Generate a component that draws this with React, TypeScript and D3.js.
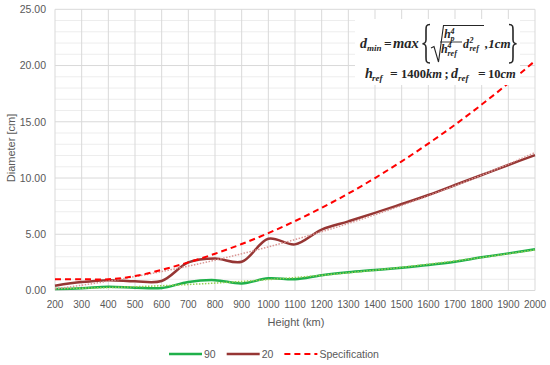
import React, { useRef, useEffect } from 'react';
import * as d3 from 'd3';

// heights in km
const heights = [200, 300, 400, 500, 600, 700, 800, 900, 1000, 1100, 1200, 1300, 1400, 1500, 1600, 1700, 1800, 1900, 2000];

// diameter [cm] per series
const series90 = [0.13, 0.2, 0.34, 0.25, 0.22, 0.76, 0.92, 0.62, 1.08, 1.0, 1.36, 1.62, 1.82, 2.03, 2.27, 2.56, 2.95, 3.3, 3.66];
const series20 = [0.43, 0.75, 0.92, 0.82, 0.85, 2.5, 2.85, 2.55, 4.6, 4.1, 5.42, 6.15, 6.9, 7.69, 8.49, 9.38, 10.27, 11.16, 12.04];
const specification = [1.0, 1.0, 1.0, 1.28, 1.84, 2.5, 3.27, 4.13, 5.1, 6.17, 7.35, 8.62, 10.0, 11.48, 13.06, 14.74, 16.53, 18.42, 20.41];

const xTicks = heights;
const yTicks = [0, 5, 10, 15, 20, 25];
const yMinorTicks = d3.range(0, 26, 1);

const legendItems = [
   { label: '90', color: '#1FB04A', dash: null },
   { label: '20', color: '#963634', dash: null },
   { label: 'Specification', color: '#FF0000', dash: '6,4' },
];

// least squares polynomial fit (Excel-style trendline)
const polyFit = (xs: number[], ys: number[], order: number) => {
   const n = order + 1;
   const A: number[][] = [];
   for (let i = 0; i < n; i++) {
      A.push(new Array(n + 1).fill(0));
   }
   const sx = xs.map((x) => x / 1000);
   for (let i = 0; i < n; i++) {
      for (let j = 0; j < n; j++) {
         A[i][j] = d3.sum(sx, (x) => Math.pow(x, i + j));
      }
      A[i][n] = d3.sum(sx, (x, k) => Math.pow(x, i) * ys[k]);
   }
   for (let c = 0; c < n; c++) {
      let p = c;
      for (let r = c + 1; r < n; r++) if (Math.abs(A[r][c]) > Math.abs(A[p][c])) p = r;
      [A[c], A[p]] = [A[p], A[c]];
      for (let r = 0; r < n; r++) {
         if (r === c) continue;
         const f = A[r][c] / A[c][c];
         for (let k = c; k <= n; k++) A[r][k] -= f * A[c][k];
      }
   }
   const coef = A.map((row, i) => row[n] / row[i]);
   return (x: number) => d3.sum(coef, (c, i) => c * Math.pow(x / 1000, i));
};

const App: React.FC = () => {
   const svgRef = useRef<SVGSVGElement | null>(null);
   const width = 550;
   const height = 365;

   useEffect(() => {
      if (!svgRef.current) return;
      const svg = d3.select(svgRef.current);
      svg.selectAll('*').remove();

      const x = d3.scaleLinear().domain([200, 2000]).range([55, 535]);
      const y = d3.scaleLinear().domain([0, 25]).range([290.5, 9.3]);
      const font = '"Liberation Sans", Arial, sans-serif';

      svg.append('rect').attr('width', width).attr('height', height).attr('fill', '#fff');

      // minor gridlines
      svg.append('g')
         .selectAll('line')
         .data(yMinorTicks.filter((d) => d % 5 !== 0))
         .join('line')
         .attr('x1', x(200))
         .attr('x2', x(2000))
         .attr('y1', (d) => y(d))
         .attr('y2', (d) => y(d))
         .attr('stroke', '#EDEDED')
         .attr('stroke-width', 1);

      // major gridlines
      svg.append('g')
         .selectAll('line')
         .data(yTicks)
         .join('line')
         .attr('x1', x(200))
         .attr('x2', x(2000))
         .attr('y1', (d) => y(d))
         .attr('y2', (d) => y(d))
         .attr('stroke', '#D9D9D9')
         .attr('stroke-width', 1);

      svg.append('g')
         .selectAll('line')
         .data(xTicks)
         .join('line')
         .attr('x1', (d) => x(d))
         .attr('x2', (d) => x(d))
         .attr('y1', y(25))
         .attr('y2', y(0))
         .attr('stroke', '#D9D9D9')
         .attr('stroke-width', 1);

      // tick labels
      svg.append('g')
         .selectAll('text')
         .data(yTicks)
         .join('text')
         .attr('x', 46)
         .attr('y', (d) => y(d) + 3.8)
         .attr('text-anchor', 'end')
         .attr('font-family', font)
         .attr('font-size', 10.5)
         .attr('fill', '#595959')
         .text((d) => d.toFixed(2));

      svg.append('g')
         .selectAll('text')
         .data(xTicks)
         .join('text')
         .attr('x', (d) => x(d))
         .attr('y', 307.5)
         .attr('text-anchor', 'middle')
         .attr('font-family', font)
         .attr('font-size', 10)
         .attr('fill', '#595959')
         .text((d) => String(d));

      svg.append('text')
         .attr('x', 296)
         .attr('y', 326)
         .attr('text-anchor', 'middle')
         .attr('font-family', font)
         .attr('font-size', 11)
         .attr('fill', '#595959')
         .text('Height (km)');

      svg.append('text')
         .attr('transform', 'translate(15,148) rotate(-90)')
         .attr('text-anchor', 'middle')
         .attr('font-family', font)
         .attr('font-size', 11)
         .attr('fill', '#595959')
         .text('Diameter [cm]');

      const line = (vals: number[]) =>
         d3.line<number>()
            .x((_, i) => x(heights[i]))
            .y((d) => y(d))
            .curve(d3.curveCatmullRom.alpha(0.5))(vals);

      // series
      svg.append('path')
         .attr('d', line(series90))
         .attr('fill', 'none')
         .attr('stroke', '#1FB04A')
         .attr('stroke-width', 2.5);

      svg.append('path')
         .attr('d', line(series20))
         .attr('fill', 'none')
         .attr('stroke', '#963634')
         .attr('stroke-width', 2.5);

      // trendlines
      const fine = d3.range(200, 2001, 10);
      const trend = d3.line<number>().x((d) => x(d));
      const fit90 = polyFit(heights, series90, 2);
      const fit20 = polyFit(heights, series20, 2);
      svg.append('path')
         .attr('d', trend.y((d) => y(fit90(d)))(fine))
         .attr('fill', 'none')
         .attr('stroke', '#92D050')
         .attr('stroke-width', 1.5)
         .attr('stroke-dasharray', '1.5,1.5');
      svg.append('path')
         .attr('d', trend.y((d) => y(fit20(d)))(fine))
         .attr('fill', 'none')
         .attr('stroke', '#D99694')
         .attr('stroke-width', 1.5)
         .attr('stroke-dasharray', '1.5,1.5');

      svg.append('path')
         .attr('d', line(specification))
         .attr('fill', 'none')
         .attr('stroke', '#FF0000')
         .attr('stroke-width', 2)
         .attr('stroke-dasharray', '6,4');

      // formula box
      const ink = '#262626';
      const fx = svg.append('g')
         .attr('font-family', '"Liberation Serif", "Times New Roman", serif')
         .attr('font-weight', 'bold')
         .attr('fill', ink);
      fx.append('rect').attr('x', 355).attr('y', 19).attr('width', 165).attr('height', 66).attr('fill', '#fff');
      const tx = (px: number, py: number, s: string, size = 12.5, style = 'italic') =>
         fx.append('text').attr('x', px).attr('y', py).attr('font-size', size).attr('font-style', style).text(s);
      const brace = (bx: number, dir: number) => {
         const top = 24.5;
         const bot = 63;
         const mid = (top + bot) / 2;
         const w = 4 * dir;
         fx.append('path')
            .attr('d', `M${bx + w},${top} C${bx},${top} ${bx},${top + 2} ${bx},${top + 6} L${bx},${mid - 4} C${bx},${mid - 1} ${bx - w * 0.6},${mid} ${bx - w * 0.9},${mid} C${bx - w * 0.6},${mid} ${bx},${mid + 1} ${bx},${mid + 4} L${bx},${bot - 6} C${bx},${bot - 2} ${bx},${bot} ${bx + w},${bot}`)
            .attr('fill', 'none')
            .attr('stroke', ink)
            .attr('stroke-width', 1.6);
      };
      tx(360, 48, 'd', 14);
      tx(367, 51, 'min', 9);
      tx(384, 48, '=', 13.5, 'normal');
      tx(393, 48, 'max', 14.5);
      brace(426, 1);
      fx.append('path')
         .attr('d', 'M431,48 L434,46.5 L438.5,62 L443.5,25.5 L484,25.5')
         .attr('fill', 'none').attr('stroke', ink).attr('stroke-width', 1.1);
      tx(444, 38, 'h', 12);
      tx(450.5, 41, 'p', 8);
      tx(450.5, 33.5, '4', 8);
      fx.append('line').attr('x1', 440).attr('x2', 462).attr('y1', 42).attr('y2', 42).attr('stroke', ink).attr('stroke-width', 0.9);
      tx(441, 53, 'h', 12);
      tx(447.5, 56, 'ref', 8);
      tx(447.5, 48, '4', 8);
      tx(463, 48, 'd', 12);
      tx(469.5, 51, 'ref', 8);
      tx(469.5, 43, '2', 8);
      tx(485, 48, ',1cm', 13);
      brace(513, -1);
      tx(365, 78, 'h', 14);
      tx(372, 81, 'ref', 9);
      tx(390, 78, '=', 13.5, 'normal');
      tx(401, 78, '1400', 12.5, 'normal');
      tx(426, 78, 'km', 12.5);
      tx(444.5, 78, ';', 12.5, 'normal');
      tx(451, 78, 'd', 14);
      tx(458, 81, 'ref', 9);
      tx(478, 78, '=', 13.5, 'normal');
      tx(488, 78, '10', 12.5, 'normal');
      tx(500.5, 78, 'cm', 12.5);

      // legend
      const lg = svg.append('g');
      let lx = 169;
      legendItems.forEach((item) => {
         lg.append('line')
            .attr('x1', lx).attr('x2', lx + 33)
            .attr('y1', 354).attr('y2', 354)
            .attr('stroke', item.color)
            .attr('stroke-width', item.dash ? 2 : 2.5)
            .attr('stroke-dasharray', item.dash);
         const t = lg.append('text')
            .attr('x', lx + 35)
            .attr('y', 358)
            .attr('font-family', font)
            .attr('font-size', 10.5)
            .attr('fill', '#595959')
            .text(item.label);
         const w = (t.node() as SVGTextElement).getComputedTextLength();
         lx += 35 + w + 11;
      });
   }, []);

   return (
      <div style={{ position: 'absolute', left: 0, top: 0 }}>
         <svg ref={svgRef} width={width} height={height} style={{ display: 'block' }} />
      </div>
   );
};

export default App;
